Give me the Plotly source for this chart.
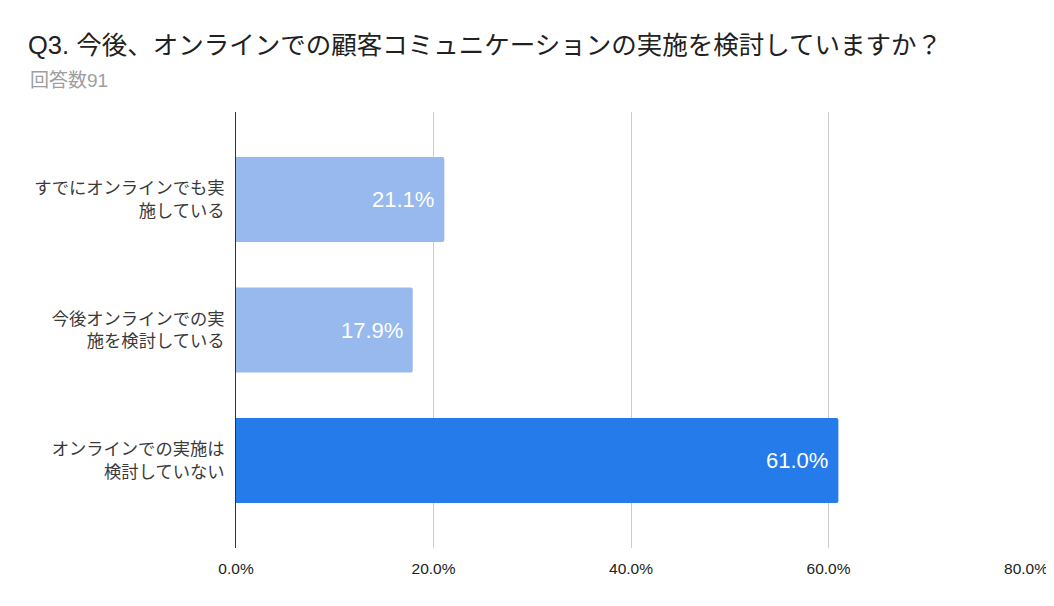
import plotly.graph_objects as go

categories = [
    'すでにオンラインでも実<br>施している',
    '今後オンラインでの実<br>施を検討している',
    'オンラインでの実施は<br>検討していない',
]
values = [21.1, 17.9, 61.0]
bar_colors = ['#97B9EE', '#97B9EE', '#267BEA']
x_ticks = [0, 20, 40, 60, 80]
x_tick_labels = ['0.0%', '20.0%', '40.0%', '60.0%', '80.0%']

FONT = 'Liberation Sans, Arial, Noto Sans CJK JP, sans-serif'

# page body has an 8px margin, so the figure is drawn 8px smaller
W, H = 1046, 598

fig = go.Figure()
fig.add_trace(go.Bar(
    x=values,
    y=categories,
    orientation='h',
    width=0.65,
    marker=dict(color=bar_colors, line=dict(width=0)),
    hoverinfo='skip',
))

# value labels inside the bar ends
labels = [
    dict(x=v, y=c, text=f'{v:.1f}%', xref='x', yref='y',
         xanchor='right', yanchor='middle', xshift=-8, showarrow=False,
         font=dict(family=FONT, size=22, color='white'))
    for v, c in zip(values, categories)
]

labels.append(dict(
    text='回答数91',
    xref='paper', yref='paper',
    x=(20 - 228) / 790, y=(540 - 73) / 436,
    xanchor='left', yanchor='middle',
    showarrow=False,
    font=dict(family=FONT, size=19, color='#9E9E9E'),
))

fig.update_layout(
    width=W, height=H,
    margin=dict(l=228, r=28, t=104, b=58, autoexpand=False),
    paper_bgcolor='white', plot_bgcolor='white',
    font=dict(family=FONT),
    showlegend=False,
    barcornerradius=2,
    title=dict(
        text='Q3. 今後、オンラインでの顧客コミュニケーションの実施を検討していますか？',
        x=20 / W, xref='container', xanchor='left',
        y=1 - 37 / H, yref='container', yanchor='middle',
        font=dict(family=FONT, size=25.5, color='#212121'),
    ),
    annotations=labels,
    xaxis=dict(
        range=[0, 80],
        tickvals=x_ticks, ticktext=x_tick_labels,
        showgrid=True, gridcolor='#CCCCCC', gridwidth=1,
        zeroline=False, showline=False,
        ticks='outside', ticklen=6, tickcolor='rgba(0,0,0,0)',
        tickfont=dict(family=FONT, size=15.5, color='#222222'),
        automargin=False,
        fixedrange=True,
    ),
    yaxis=dict(
        categoryorder='array', categoryarray=categories,
        range=[2.67, -0.67],
        showgrid=False, zeroline=False,
        showline=True, linecolor='#333333', linewidth=1,
        ticks='outside', ticklen=7, tickcolor='rgba(0,0,0,0)',
        tickfont=dict(family=FONT, size=17.3, color='#3A3A3A'),
        automargin=False,
        fixedrange=True,
    ),
)

fig.write_html('out.html')
